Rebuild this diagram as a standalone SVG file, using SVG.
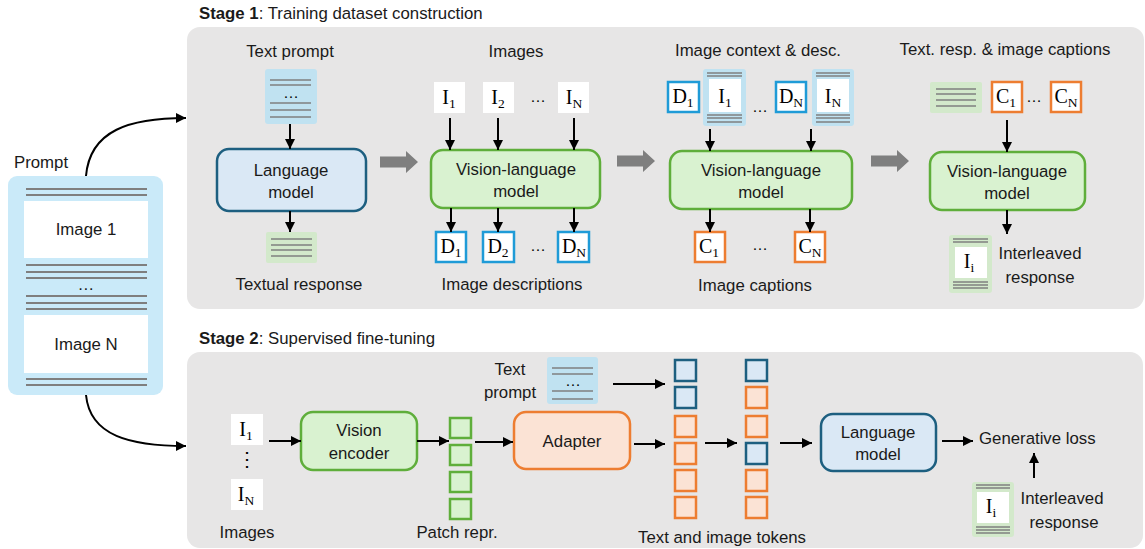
<svg xmlns="http://www.w3.org/2000/svg" width="1145" height="549" viewBox="0 0 1145 549">
<defs>
<marker id="ah" viewBox="0 0 10 10" refX="10" refY="5" markerWidth="10" markerHeight="10" markerUnits="userSpaceOnUse" orient="auto"><path d="M0,0 L10,5 L0,10 z" fill="#000"/></marker>
<style>
.t{font-family:"Liberation Sans",Arial,sans-serif;font-size:16.8px;fill:#1a1a1a}
.c{text-anchor:middle}
.b{font-weight:bold}
.m{font-family:"Liberation Serif","Times New Roman",serif;font-size:20px;fill:#000;text-anchor:middle}
.s{font-size:13.5px}
.el{font-family:"Liberation Serif","Times New Roman",serif;font-size:15px;fill:#000;text-anchor:middle}
.panel{fill:#e7e6e6}
.ln{stroke:#7f7f7f;stroke-width:2}
.lnt{stroke:#7f7f7f;stroke-width:1.6}
.ar{stroke:#000;stroke-width:2;fill:none;marker-end:url(#ah)}
.lm{fill:#dae8f5;stroke:#1d5f80;stroke-width:2.5}
.vl{fill:#d9f2d0;stroke:#5fae3b;stroke-width:2.5}
.ad{fill:#fbe3d5;stroke:#ed7d31;stroke-width:2.5}
.db{fill:#fff;stroke:#1f9bd7;stroke-width:2.5}
.cb{fill:#fff;stroke:#ed7d31;stroke-width:2.5}
.wb{fill:#fff}
.bi{fill:#c0e2f1}
.gi{fill:#d3e9cb}
.pr{fill:#caeaf9}
.ga{fill:#7f7f7f}
</style>
</defs>

<!-- panels -->
<g id="stage1-panel">
<rect class="panel" x="187" y="27" width="957" height="282" rx="13"/>
<text class="t" x="199" y="19"><tspan class="b">Stage 1</tspan>: Training dataset construction</text>
</g>
<g id="stage2-panel">
<rect class="panel" x="187" y="352" width="956" height="196" rx="13"/>
<text class="t" x="199" y="344"><tspan class="b">Stage 2</tspan>: Supervised fine-tuning</text>
</g>

<!-- prompt -->
<g id="prompt">
<text class="t" x="14" y="168">Prompt</text>
<rect class="pr" x="8" y="176" width="155" height="219" rx="9"/>
<line class="ln" x1="26" y1="189" x2="147" y2="189"/>
<line class="ln" x1="26" y1="195" x2="147" y2="195"/>
<rect class="wb" x="24" y="201" width="124" height="57"/>
<text class="t c" x="86" y="235">Image 1</text>
<line class="ln" x1="26" y1="265" x2="147" y2="265"/>
<line class="ln" x1="26" y1="272" x2="147" y2="272"/>
<line class="ln" x1="26" y1="278" x2="147" y2="278"/>
<text class="t c" x="86" y="290">…</text>
<line class="ln" x1="26" y1="296" x2="147" y2="296"/>
<line class="ln" x1="26" y1="303" x2="147" y2="303"/>
<line class="ln" x1="26" y1="309" x2="147" y2="309"/>
<rect class="wb" x="24" y="315" width="124" height="58"/>
<text class="t c" x="86" y="350">Image N</text>
<line class="ln" x1="26" y1="379" x2="147" y2="379"/>
<line class="ln" x1="26" y1="385" x2="147" y2="385"/>
</g>

<!-- stage 1, section 1 -->
<g id="s1-text-prompt">
<text class="t c" x="290" y="57">Text prompt</text>
<rect class="bi" x="265" y="69" width="52" height="55" rx="3"/>
<line class="lnt" x1="270" y1="80" x2="311" y2="80"/>
<line class="lnt" x1="270" y1="85" x2="311" y2="85"/>
<text class="el" x="291" y="98">…</text>
<line class="lnt" x1="270" y1="103" x2="311" y2="103"/>
<line class="lnt" x1="270" y1="110" x2="311" y2="110"/>
<line class="lnt" x1="270" y1="117" x2="311" y2="117"/>
</g>
<g id="s1-language-model">
<rect class="lm" x="217" y="149" width="149" height="62" rx="12"/>
<text class="t c" x="291" y="176">Language</text>
<text class="t c" x="291" y="198">model</text>
</g>
<g id="s1-textual-response">
<rect class="gi" x="266" y="232" width="51" height="31" rx="2"/>
<line class="lnt" x1="271" y1="239" x2="312" y2="239"/>
<line class="lnt" x1="271" y1="245" x2="312" y2="245"/>
<line class="lnt" x1="271" y1="250" x2="312" y2="250"/>
<line class="lnt" x1="271" y1="256" x2="312" y2="256"/>
<text class="t c" x="299" y="290">Textual response</text>
</g>

<!-- stage 1, section 2 -->
<g id="s1-images">
<text class="t c" x="516" y="57">Images</text>
<rect class="wb" x="434" y="82" width="31" height="31"/>
<text class="m" x="449" y="104">I<tspan class="s" dy="4">1</tspan></text>
<rect class="wb" x="483" y="82" width="31" height="31"/>
<text class="m" x="498" y="104">I<tspan class="s" dy="4">2</tspan></text>
<text class="el" x="538" y="102">…</text>
<rect class="wb" x="558" y="82" width="31" height="31"/>
<text class="m" x="574" y="104">I<tspan class="s" dy="4">N</tspan></text>
</g>
<g id="s1-vlm1">
<rect class="vl" x="431" y="150" width="169" height="58" rx="12"/>
<text class="t c" x="516" y="175">Vision-language</text>
<text class="t c" x="516" y="197">model</text>
</g>
<g id="s1-descriptions">
<rect class="db" x="436" y="232" width="30" height="30"/>
<text class="m" x="451" y="253">D<tspan class="s" dy="4">1</tspan></text>
<rect class="db" x="483" y="232" width="31" height="30"/>
<text class="m" x="498" y="253">D<tspan class="s" dy="4">2</tspan></text>
<text class="el" x="538" y="251">…</text>
<rect class="db" x="558" y="232" width="31" height="30"/>
<text class="m" x="574" y="253">D<tspan class="s" dy="4">N</tspan></text>
<text class="t c" x="512" y="290">Image descriptions</text>
</g>

<!-- stage 1, section 3 -->
<g id="s1-context">
<text class="t c" x="758" y="56">Image context &amp; desc.</text>
<rect class="db" x="668" y="82" width="31" height="30"/>
<text class="m" x="683" y="103">D<tspan class="s" dy="4">1</tspan></text>
<rect class="bi" x="703" y="69" width="43" height="57" rx="3"/>
<line class="lnt" x1="707" y1="73" x2="742" y2="73"/>
<line class="lnt" x1="707" y1="76" x2="742" y2="76"/>
<rect class="wb" x="709" y="79" width="32" height="33"/>
<text class="m" x="725" y="103">I<tspan class="s" dy="4">1</tspan></text>
<line class="lnt" x1="707" y1="115" x2="742" y2="115"/>
<line class="lnt" x1="707" y1="118" x2="742" y2="118"/>
<line class="lnt" x1="707" y1="122" x2="742" y2="122"/>
<text class="el" x="760" y="112">…</text>
<rect class="db" x="776" y="82" width="30" height="30"/>
<text class="m" x="791" y="103">D<tspan class="s" dy="4">N</tspan></text>
<rect class="bi" x="812" y="69" width="42" height="57" rx="3"/>
<line class="lnt" x1="816" y1="73" x2="850" y2="73"/>
<line class="lnt" x1="816" y1="76" x2="850" y2="76"/>
<rect class="wb" x="817" y="79" width="32" height="33"/>
<text class="m" x="833" y="103">I<tspan class="s" dy="4">N</tspan></text>
<line class="lnt" x1="816" y1="115" x2="850" y2="115"/>
<line class="lnt" x1="816" y1="118" x2="850" y2="118"/>
<line class="lnt" x1="816" y1="122" x2="850" y2="122"/>
</g>
<g id="s1-vlm2">
<rect class="vl" x="670" y="151" width="182" height="58" rx="12"/>
<text class="t c" x="761" y="176">Vision-language</text>
<text class="t c" x="761" y="198">model</text>
</g>
<g id="s1-captions">
<rect class="cb" x="695" y="232" width="30" height="30"/>
<text class="m" x="709" y="253">C<tspan class="s" dy="4">1</tspan></text>
<text class="el" x="760" y="250">…</text>
<rect class="cb" x="795" y="232" width="30" height="30"/>
<text class="m" x="810" y="253">C<tspan class="s" dy="4">N</tspan></text>
<text class="t c" x="755" y="291">Image captions</text>
</g>

<!-- stage 1, section 4 -->
<g id="s1-text-captions">
<text class="t c" x="1005" y="55">Text. resp. &amp; image captions</text>
<rect class="gi" x="930" y="82" width="52" height="31" rx="2"/>
<line class="lnt" x1="936" y1="89" x2="976" y2="89"/>
<line class="lnt" x1="936" y1="94" x2="976" y2="94"/>
<line class="lnt" x1="936" y1="100" x2="976" y2="100"/>
<line class="lnt" x1="936" y1="106" x2="976" y2="106"/>
<rect class="cb" x="992" y="82" width="30" height="30"/>
<text class="m" x="1006" y="103">C<tspan class="s" dy="4">1</tspan></text>
<text class="el" x="1034" y="102">…</text>
<rect class="cb" x="1051" y="82" width="30" height="30"/>
<text class="m" x="1066" y="103">C<tspan class="s" dy="4">N</tspan></text>
</g>
<g id="s1-vlm3">
<rect class="vl" x="930" y="152" width="155" height="58" rx="12"/>
<text class="t c" x="1007" y="177">Vision-language</text>
<text class="t c" x="1007" y="199">model</text>
</g>
<g id="s1-interleaved">
<rect class="gi" x="949" y="235" width="43" height="58" rx="3"/>
<line class="lnt" x1="953" y1="239" x2="988" y2="239"/>
<line class="lnt" x1="953" y1="242" x2="988" y2="242"/>
<rect class="wb" x="955" y="247" width="32" height="31"/>
<text class="m" x="969" y="268">I<tspan class="s" dy="4">i</tspan></text>
<line class="lnt" x1="953" y1="282" x2="988" y2="282"/>
<line class="lnt" x1="953" y1="285" x2="988" y2="285"/>
<line class="lnt" x1="953" y1="288" x2="988" y2="288"/>
<text class="t c" x="1040" y="259">Interleaved</text>
<text class="t c" x="1040" y="283">response</text>
</g>

<!-- stage 2 -->
<g id="s2-images">
<rect class="wb" x="231" y="414" width="32" height="31"/>
<text class="m" x="246" y="436">I<tspan class="s" dy="4">1</tspan></text>
<text class="m" x="247" y="466">⋮</text>
<rect class="wb" x="231" y="479" width="32" height="31"/>
<text class="m" x="246" y="501">I<tspan class="s" dy="4">N</tspan></text>
<text class="t c" x="247" y="538">Images</text>
</g>
<g id="s2-vision-encoder">
<rect class="vl" x="301" y="412" width="116" height="58" rx="12"/>
<text class="t c" x="359" y="436">Vision</text>
<text class="t c" x="359" y="459">encoder</text>
</g>
<g id="s2-patch">
<rect class="vl" x="450" y="418" width="21" height="20"/>
<rect class="vl" x="450" y="445" width="21" height="20"/>
<rect class="vl" x="450" y="472" width="21" height="20"/>
<rect class="vl" x="450" y="499" width="21" height="20"/>
<text class="t c" x="457" y="538">Patch repr.</text>
</g>
<g id="s2-text-prompt">
<text class="t c" x="510" y="375">Text</text>
<text class="t c" x="510" y="398">prompt</text>
<rect class="bi" x="547" y="357" width="51" height="47" rx="3"/>
<line class="lnt" x1="552" y1="368" x2="593" y2="368"/>
<line class="lnt" x1="552" y1="374" x2="593" y2="374"/>
<text class="el" x="573" y="386">…</text>
<line class="lnt" x1="552" y1="391" x2="593" y2="391"/>
<line class="lnt" x1="552" y1="399" x2="593" y2="399"/>
</g>
<g id="s2-adapter">
<rect class="ad" x="514" y="412" width="116" height="57" rx="12"/>
<text class="t c" x="572" y="447">Adapter</text>
</g>
<g id="s2-tokens">
<rect class="lm" x="675" y="360" width="21" height="21"/>
<rect class="lm" x="675" y="387" width="21" height="21"/>
<rect class="ad" x="675" y="416" width="21" height="21"/>
<rect class="ad" x="675" y="443" width="21" height="21"/>
<rect class="ad" x="675" y="470" width="21" height="21"/>
<rect class="ad" x="675" y="497" width="21" height="21"/>
<rect class="lm" x="746" y="360" width="21" height="21"/>
<rect class="ad" x="746" y="387" width="21" height="21"/>
<rect class="ad" x="746" y="416" width="21" height="21"/>
<rect class="lm" x="746" y="443" width="21" height="21"/>
<rect class="ad" x="746" y="470" width="21" height="21"/>
<rect class="ad" x="746" y="497" width="21" height="21"/>
<text class="t c" x="722" y="543">Text and image tokens</text>
</g>
<g id="s2-language-model">
<rect class="lm" x="821" y="414" width="115" height="57" rx="12"/>
<text class="t c" x="878" y="438">Language</text>
<text class="t c" x="878" y="460">model</text>
</g>
<g id="s2-loss">
<text class="t" x="979" y="444">Generative loss</text>
</g>
<g id="s2-interleaved">
<rect class="gi" x="972" y="482" width="42" height="55" rx="3"/>
<line class="lnt" x1="976" y1="485" x2="1010" y2="485"/>
<line class="lnt" x1="976" y1="488" x2="1010" y2="488"/>
<rect class="wb" x="977" y="492" width="32" height="31"/>
<text class="m" x="991" y="513">I<tspan class="s" dy="4">i</tspan></text>
<line class="lnt" x1="976" y1="527" x2="1010" y2="527"/>
<line class="lnt" x1="976" y1="530" x2="1010" y2="530"/>
<line class="lnt" x1="976" y1="533" x2="1010" y2="533"/>
<text class="t c" x="1062" y="504">Interleaved</text>
<text class="t c" x="1064" y="528">response</text>
</g>

<!-- connectors -->
<g id="connectors">
<path class="ar" d="M86,176 C90,130 130,118 186,118"/>
<path class="ar" d="M86,395 C90,436 130,446 186,446"/>
<line class="ar" x1="290" y1="124" x2="290" y2="149"/>
<line class="ar" x1="290" y1="211" x2="290" y2="232"/>
<line class="ar" x1="450" y1="118" x2="450" y2="150"/>
<line class="ar" x1="498" y1="118" x2="498" y2="150"/>
<line class="ar" x1="574" y1="118" x2="574" y2="150"/>
<line class="ar" x1="451" y1="208" x2="451" y2="232"/>
<line class="ar" x1="498" y1="208" x2="498" y2="232"/>
<line class="ar" x1="574" y1="208" x2="574" y2="232"/>
<line class="ar" x1="710" y1="129" x2="710" y2="151"/>
<line class="ar" x1="811" y1="129" x2="811" y2="151"/>
<line class="ar" x1="710" y1="209" x2="710" y2="232"/>
<line class="ar" x1="810" y1="209" x2="810" y2="232"/>
<line class="ar" x1="1007" y1="120" x2="1007" y2="152"/>
<line class="ar" x1="1007" y1="210" x2="1007" y2="234"/>
<path class="ga" d="M380,156.5 H406 V151 L418,162 L406,173 V167.5 H380 z"/>
<path class="ga" d="M617,155.5 H643 V150 L655,161 L643,172 V166.5 H617 z"/>
<path class="ga" d="M871,155.5 H897 V150 L909,161 L897,172 V166.5 H871 z"/>
<line class="ar" x1="269" y1="441" x2="301" y2="441"/>
<line class="ar" x1="417" y1="441" x2="449" y2="441"/>
<line class="ar" x1="475" y1="442" x2="513" y2="442"/>
<line class="ar" x1="613" y1="384" x2="665" y2="384"/>
<line class="ar" x1="634" y1="444" x2="665" y2="444"/>
<line class="ar" x1="705" y1="443" x2="737" y2="443"/>
<line class="ar" x1="780" y1="443" x2="812" y2="443"/>
<line class="ar" x1="942" y1="441" x2="973" y2="441"/>
<line class="ar" x1="1034" y1="478" x2="1034" y2="453"/>
</g>
</svg>
